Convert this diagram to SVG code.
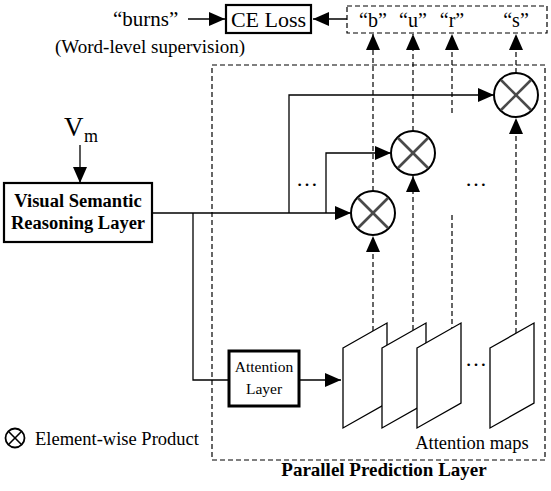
<svg xmlns="http://www.w3.org/2000/svg" width="551" height="491" viewBox="0 0 551 491" font-family="'Liberation Serif', 'Times New Roman', serif">
<style>
  text { font-family: 'Liberation Serif', 'Times New Roman', serif; fill: #000; }
  .b { font-weight: bold; }
  .ln { fill: none; stroke: #000; stroke-width: 1.3; }
  .dash { fill: none; stroke: #000; stroke-width: 1.2; stroke-dasharray: 5,3; }
  .box { fill: #fff; stroke: #000; stroke-width: 2.2; }
  .thick { fill: #fff; stroke: #000; stroke-width: 3; }
  .circ { fill: #fff; stroke: #000; stroke-width: 2; }
  .cross { stroke: #4a4a4a; stroke-width: 2.6; }
  .map { fill: #fff; stroke: #000; stroke-width: 1.3; }
</style>
<defs>
  <marker id="ah" markerUnits="userSpaceOnUse" markerWidth="16" markerHeight="14" refX="16" refY="7" orient="auto">
    <path d="M0,0 L16,7 L0,14 Z" fill="#000"/>
  </marker>
  <g id="x">
    <circle r="22" class="circ"/>
    <line x1="-15" y1="-15" x2="15" y2="15" class="cross"/>
    <line x1="-15" y1="15" x2="15" y2="-15" class="cross"/>
  </g>
</defs>

<g id="connectors">
  <line x1="188" y1="19" x2="225" y2="19" class="ln" marker-end="url(#ah)"/>
  <line x1="347" y1="19" x2="313" y2="19" class="ln" marker-end="url(#ah)"/>
  <line x1="80" y1="145" x2="80" y2="183" class="ln" marker-end="url(#ah)"/>
  <polyline points="152,213 351,213" class="ln" marker-end="url(#ah)"/>
  <polyline points="289,213 289,95 494,95" class="ln" marker-end="url(#ah)"/>
  <polyline points="326,213 326,153 391,153" class="ln" marker-end="url(#ah)"/>
  <polyline points="193,213 193,380 229,380" class="ln"/>
  <line x1="299" y1="380" x2="341" y2="380" class="ln" marker-end="url(#ah)"/>
  <line x1="373" y1="331" x2="373" y2="236" class="dash" marker-end="url(#ah)"/>
  <line x1="373" y1="191" x2="373" y2="34" class="dash" marker-end="url(#ah)"/>
  <line x1="413" y1="330" x2="413" y2="176" class="dash" marker-end="url(#ah)"/>
  <line x1="413" y1="131" x2="413" y2="34" class="dash" marker-end="url(#ah)"/>
  <line x1="452" y1="113" x2="452" y2="34" class="dash" marker-end="url(#ah)"/>
  <line x1="452" y1="215" x2="452" y2="328" class="dash"/>
  <line x1="516" y1="333" x2="516" y2="118" class="dash" marker-end="url(#ah)"/>
  <line x1="516" y1="73" x2="516" y2="34" class="dash" marker-end="url(#ah)"/>
</g>

<g id="parallel-prediction-layer">
  <rect x="212" y="65" width="333" height="395" class="dash"/>
  <text x="384" y="476" font-size="19" class="b" text-anchor="middle">Parallel Prediction Layer</text>
</g>

<g id="burns">
  <text x="113" y="26" font-size="21">“burns”</text>
  <text x="55" y="53" font-size="19">(Word-level supervision)</text>
</g>

<g id="ce-loss">
  <rect x="226" y="5" width="85" height="28" class="box"/>
  <text x="268.5" y="27" font-size="22" text-anchor="middle">CE Loss</text>
</g>

<g id="outputs">
  <rect x="347" y="6" width="200" height="27" class="dash"/>
  <text x="373" y="27" font-size="20" text-anchor="middle">“b”</text>
  <text x="413" y="27" font-size="20" text-anchor="middle">“u”</text>
  <text x="452" y="27" font-size="20" text-anchor="middle">“r”</text>
  <text x="516" y="27" font-size="20" text-anchor="middle">“s”</text>
</g>

<g id="vm">
  <text x="64" y="136" font-size="27">V</text>
  <text x="84" y="142" font-size="18">m</text>
</g>

<g id="vsr">
  <rect x="4" y="183" width="148" height="59" class="box"/>
  <text x="78" y="207" font-size="18.5" class="b" text-anchor="middle">Visual Semantic</text>
  <text x="78" y="229" font-size="18.5" class="b" text-anchor="middle">Reasoning Layer</text>
</g>

<g id="product-1"><use href="#x" x="373" y="213"/></g>
<g id="product-2"><use href="#x" x="413" y="153"/></g>
<g id="product-3"><use href="#x" x="516" y="95"/></g>

<g id="dots">
  <text x="307" y="186" font-size="22" text-anchor="middle">…</text>
  <text x="476" y="186" font-size="22" text-anchor="middle">…</text>
  <text x="476" y="366" font-size="22" text-anchor="middle">…</text>
</g>

<g id="attention-layer">
  <rect x="229" y="351" width="70" height="55" class="thick"/>
  <text x="264" y="372" font-size="15.5" text-anchor="middle">Attention</text>
  <text x="264" y="394" font-size="15.5" text-anchor="middle">Layer</text>
</g>

<g id="attention-maps">
  <polygon points="343,348 387,323 387,403 343,428" class="map"/>
  <polygon points="382,348 426,323 426,403 382,428" class="map"/>
  <polygon points="417,348 461,323 461,403 417,428" class="map"/>
  <polygon points="490,348 534,323 534,403 490,428" class="map"/>
  <text x="472" y="449" font-size="18.5" text-anchor="middle">Attention maps</text>
</g>

<g id="legend">
  <circle cx="15" cy="438" r="9.5" fill="#fff" stroke="#000" stroke-width="1.8"/>
  <line x1="8.3" y1="431.3" x2="21.7" y2="444.7" stroke="#000" stroke-width="1.6"/>
  <line x1="8.3" y1="444.7" x2="21.7" y2="431.3" stroke="#000" stroke-width="1.6"/>
  <text x="35" y="445" font-size="18.5">Element-wise Product</text>
</g>
</svg>
